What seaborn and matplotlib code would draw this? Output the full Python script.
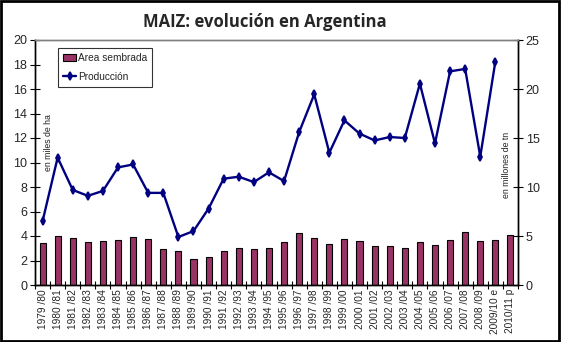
import numpy as np
import pandas as pd
import matplotlib
matplotlib.use("Agg")
import matplotlib.pyplot as plt
import seaborn as sns
from matplotlib.patches import Rectangle

campaigns = ["1979 /80", "1980 /81", "1981 /82", "1982 /83", "1983 /84", "1984 /85",
             "1985 /86", "1986 /87", "1987 /88", "1988 /89", "1989 /90", "1990 /91",
             "1991 /92", "1992 /93", "1993 /94", "1994 /95", "1995 /96", "1996 /97",
             "1997 /98", "1998 /99", "1999 /00", "2000 /01", "2001 /02", "2002 /03",
             "2003 /04", "2004 /05", "2005 /06", "2006 /07", "2007 /08", "2008 /09",
             "2009/10 e", "2010/11 p"]
area_sembrada = [3.4, 4.0, 3.8, 3.55, 3.6, 3.7, 3.9, 3.75, 2.95, 2.8, 2.15, 2.3,
                 2.8, 3.05, 2.9, 3.05, 3.5, 4.25, 3.85, 3.35, 3.75, 3.6, 3.15, 3.15,
                 3.05, 3.5, 3.25, 3.7, 4.3, 3.6, 3.7, 4.05]
produccion = [6.5, 13.0, 9.7, 9.1, 9.6, 12.0, 12.3, 9.4, 9.4, 4.9, 5.5, 7.8,
              10.85, 11.05, 10.5, 11.5, 10.6, 15.6, 19.45, 13.5, 16.8, 15.45, 14.75, 15.1,
              15.0, 20.55, 14.45, 21.8, 22.05, 13.1, 22.8, np.nan]

title = "MAIZ: evolución en Argentina"
left_label = "en miles de ha"
right_label = "en millones de tn"

df = pd.DataFrame({"campana": campaigns, "area": area_sembrada, "prod": produccion})

sns.set_theme(style="white")
plt.rcParams["font.family"] = ["Liberation Sans", "DejaVu Sans"]

fig = plt.figure(figsize=(5.61, 3.42), dpi=100)
ax = fig.add_axes([35/561, 1-285/342, 483/561, 245/342])

sns.barplot(data=df, x="campana", y="area", ax=ax, color="#993366", saturation=1,
            width=0.4, edgecolor="black", linewidth=0.8, label="Area sembrada")
ax2 = ax.twinx()
sns.pointplot(data=df, x="campana", y="prod", ax=ax2, color="#000080",
              markers="d", markersize=4, linewidth=1.7, label="Producción")

ax.set_xlim(-0.5, len(campaigns) - 0.5)
ax.set_ylim(0, 20)
ax2.set_ylim(0, 25)
ax.set_yticks(np.arange(0, 21, 2))
ax2.set_yticks(np.arange(0, 26, 5))
ax.set_xlabel("")
ax.set_ylabel("")
ax2.set_xlabel("")
ax2.set_ylabel("")

ax.set_xticks(np.arange(len(campaigns)))
ax.set_xticklabels(campaigns, rotation=90, fontsize=7.3)
ax.set_xticks(np.arange(-0.5, len(campaigns), 1), minor=True)
ax.tick_params(axis="x", which="major", length=0, pad=3)
ax.tick_params(axis="x", which="minor", direction="inout", length=6, width=0.8, color="black", bottom=True)
ax.tick_params(axis="y", direction="inout", length=7, width=0.8, labelsize=9, left=True, color="black", pad=2)
ax2.tick_params(axis="y", direction="inout", length=7, width=0.8, labelsize=9, right=True, color="black", pad=2)
ax2.tick_params(axis="x", which="both", bottom=False, labelbottom=False)

for a in (ax, ax2):
    for s in ("left", "right", "bottom"):
        a.spines[s].set_color("black")
        a.spines[s].set_linewidth(1.0)
    a.spines["top"].set_color("#808080")
    a.spines["top"].set_linewidth(1.0)

ax.text(0.027, 0.58, left_label, transform=ax.transAxes, rotation=90,
        fontsize=6.3, ha="center", va="center", color="#222222")
ax2.text(0.977, 0.49, right_label, transform=ax2.transAxes, rotation=90,
         fontsize=6.3, ha="center", va="center", color="#222222")

h1, l1 = ax.get_legend_handles_labels()
h2, l2 = ax2.get_legend_handles_labels()
if ax2.get_legend():
    ax2.get_legend().remove()
leg = ax2.legend(h1 + h2, l1 + l2, loc="upper left", bbox_to_anchor=(0.048, 0.968),
                 fontsize=7.3, frameon=True, fancybox=False, edgecolor="black",
                 handlelength=1.3, handleheight=0.8, handletextpad=0.15, borderpad=0.5,
                 labelspacing=0.9, borderaxespad=0)
leg.get_frame().set_linewidth(0.8)
if ax.get_legend():
    ax.get_legend().remove()

fig.text(265/561, 1-22/342, title, ha="center", va="center", fontsize=12,
         fontweight="bold", family=["Open Sans", "DejaVu Sans"])

fig.patches.append(Rectangle((0.002, 0.003), 0.995, 0.993, transform=fig.transFigure,
                             fill=False, edgecolor="black", linewidth=2))

fig.savefig("out.png", dpi=100)
